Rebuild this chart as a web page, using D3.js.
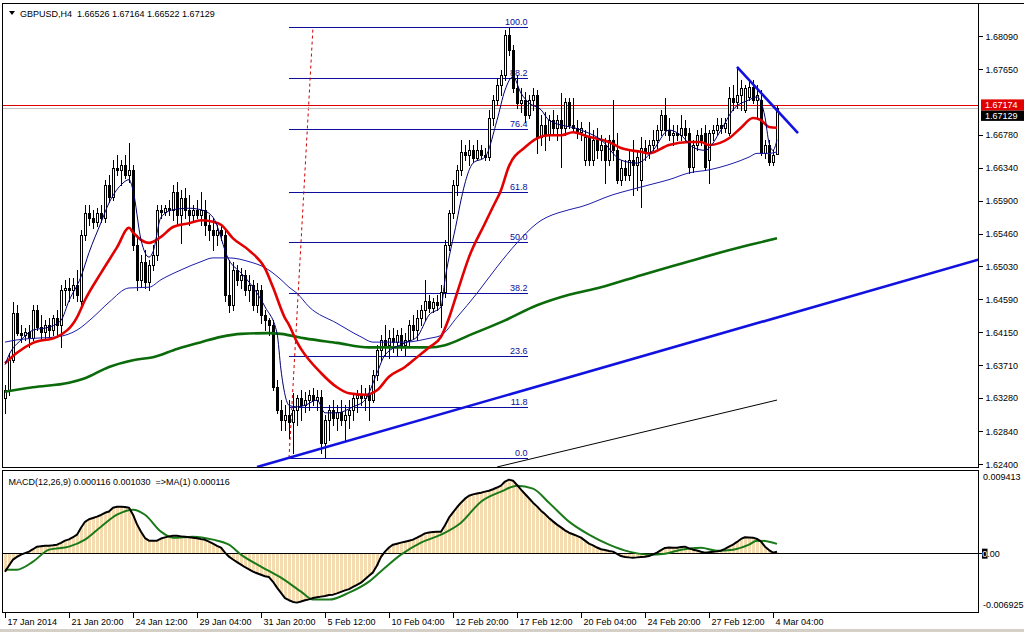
<!DOCTYPE html>
<html><head><meta charset="utf-8">
<script src="https://cdn.jsdelivr.net/npm/d3@7/dist/d3.min.js"></script>
<style>
html,body{margin:0;padding:0;background:#fff;}
svg{display:block;}
text{font-family:"Liberation Sans",Arial,sans-serif;font-size:9px;white-space:pre;}
</style></head><body>
<svg id="c" width="1024" height="632"></svg>
<script>
// ---------------- DATA ----------------
const chartTitle = "GBPUSD,H4  1.66526 1.67164 1.66522 1.67129";
const macdTitle = "MACD(12,26,9) 0.000116 0.001030  =>MA(1) 0.000116";

const opens = [1.6328,1.6338,1.6378,1.6441,1.6414,1.6411,1.6415,1.6407,1.6445,1.6422,
1.6415,1.6425,1.6418,1.6434,1.6425,1.6471,1.6474,1.6471,1.6478,1.6457,
1.6544,1.6574,1.6567,1.6562,1.6574,1.6567,1.6611,1.6595,1.6634,1.6631,
1.6638,1.6624,1.6631,1.6531,1.6485,1.6509,1.6482,1.6505,1.6518,1.6578,
1.6575,1.6580,1.6578,1.6602,1.6571,1.6594,1.6578,1.6571,1.6578,1.6571,
1.6578,1.6558,1.6551,1.6544,1.6551,1.6544,1.6465,1.6451,1.6498,1.6485,
1.6491,1.6471,1.6478,1.6451,1.6471,1.6438,1.6431,1.6425,1.6342,1.6312,
1.6298,1.6305,1.6296,1.6312,1.6328,1.6318,1.6325,1.6332,1.6325,1.6329,
1.6268,1.6298,1.6312,1.6301,1.6309,1.6298,1.6305,1.6312,1.6328,1.6332,
1.6328,1.6332,1.6325,1.6358,1.6392,1.6405,1.6398,1.6407,1.6402,1.6411,
1.6398,1.6405,1.6425,1.6418,1.6434,1.6445,1.6457,1.6447,1.6455,1.6451,
1.6469,1.6531,1.6574,1.6611,1.6631,1.6655,1.6651,1.6657,1.6647,1.6657,
1.6651,1.6648,1.6700,1.6724,1.6744,1.6757,1.6810,1.6790,1.6740,1.6720,
1.6724,1.6704,1.6724,1.6731,1.6675,1.6691,1.6677,1.6697,1.6687,1.6697,
1.6687,1.6721,1.6691,1.6687,1.6681,1.6644,1.6675,1.6644,1.6671,1.6657,
1.6664,1.6644,1.6671,1.6657,1.6618,1.6634,1.6624,1.6644,1.6638,1.6618,
1.6660,1.6655,1.6664,1.6671,1.6684,1.6704,1.6684,1.6677,1.6680,1.6677,
1.6687,1.6680,1.6635,1.6664,1.6677,1.6680,1.6644,1.6680,1.6684,1.6691,
1.6687,1.6680,1.6727,1.6721,1.6731,1.6711,1.6728,1.6741,1.6724,1.6724,
1.6653,1.6664,1.6642,1.66526];
const highs = [1.6345,1.6388,1.6455,1.6451,1.6425,1.6421,1.6425,1.6451,1.6451,1.6438,
1.6431,1.6434,1.6438,1.6445,1.6478,1.6485,1.6487,1.6487,1.6498,1.6551,
1.6584,1.6584,1.6578,1.6580,1.6584,1.6618,1.6624,1.6644,1.6651,1.6644,
1.6651,1.6667,1.6638,1.6544,1.6518,1.6524,1.6511,1.6531,1.6584,1.6584,
1.6584,1.6591,1.6611,1.6615,1.6604,1.6607,1.6598,1.6584,1.6591,1.6602,
1.6591,1.6571,1.6567,1.6558,1.6558,1.6551,1.6511,1.6509,1.6505,1.6501,
1.6498,1.6491,1.6485,1.6481,1.6478,1.6445,1.6434,1.6431,1.6352,1.6325,
1.6318,1.6325,1.6334,1.6332,1.6338,1.6336,1.6338,1.6341,1.6338,1.6338,
1.6305,1.6318,1.6325,1.6318,1.6325,1.6318,1.6325,1.6332,1.6338,1.6345,
1.6341,1.6345,1.6365,1.6398,1.6411,1.6425,1.6418,1.6421,1.6418,1.6421,
1.6414,1.6431,1.6438,1.6445,1.6451,1.6485,1.6465,1.6461,1.6465,1.6478,
1.6538,1.6578,1.6618,1.6638,1.6671,1.6664,1.6671,1.6664,1.6671,1.6664,
1.6660,1.6711,1.6731,1.6753,1.6764,1.6817,1.6820,1.6797,1.6757,1.6740,
1.6735,1.6731,1.6740,1.6737,1.6704,1.6708,1.6704,1.6711,1.6704,1.6733,
1.6727,1.6727,1.6727,1.6697,1.6695,1.6684,1.6695,1.6684,1.6687,1.6677,
1.6673,1.6677,1.6724,1.6680,1.6644,1.6644,1.6657,1.6671,1.6657,1.6675,
1.6671,1.6671,1.6684,1.6691,1.6711,1.6727,1.6700,1.6691,1.6691,1.6704,
1.6697,1.6687,1.6671,1.6684,1.6687,1.6691,1.6684,1.6691,1.6700,1.6700,
1.6700,1.6741,1.6744,1.6767,1.6751,1.6744,1.6751,1.6751,1.6744,1.6737,
1.6671,1.6671,1.6657,1.67164];
const lows = [1.6308,1.6332,1.6376,1.6411,1.6402,1.6405,1.6395,1.6405,1.6418,1.6405,
1.6407,1.6410,1.6411,1.6411,1.6395,1.6451,1.6457,1.6461,1.6457,1.6451,
1.6538,1.6558,1.6554,1.6556,1.6562,1.6562,1.6588,1.6591,1.6624,1.6611,
1.6620,1.6615,1.6524,1.6471,1.6475,1.6474,1.6471,1.6498,1.6511,1.6567,
1.6571,1.6571,1.6564,1.6558,1.6534,1.6567,1.6558,1.6562,1.6567,1.6558,
1.6544,1.6538,1.6524,1.6531,1.6538,1.6457,1.6442,1.6445,1.6478,1.6474,
1.6465,1.6457,1.6445,1.6442,1.6427,1.6418,1.6411,1.6338,1.6308,1.6285,
1.6285,1.6274,1.6255,1.6292,1.6298,1.6309,1.6312,1.6318,1.6312,1.6255,
1.6249,1.6272,1.6292,1.6285,1.6292,1.6272,1.6288,1.6298,1.6309,1.6318,
1.6312,1.6298,1.6322,1.6352,1.6378,1.6385,1.6381,1.6389,1.6385,1.6392,
1.6385,1.6398,1.6407,1.6405,1.6425,1.6431,1.6442,1.6442,1.6445,1.6422,
1.6462,1.6524,1.6567,1.6598,1.6624,1.6644,1.6638,1.6642,1.6644,1.6647,
1.6644,1.6644,1.6691,1.6717,1.6731,1.6751,1.6784,1.6735,1.6713,1.6708,
1.6695,1.6700,1.6711,1.6653,1.6664,1.6657,1.6671,1.6677,1.6671,1.6635,
1.6677,1.6687,1.6681,1.6673,1.6671,1.6638,1.6638,1.6638,1.6647,1.6644,
1.6614,1.6638,1.6644,1.6614,1.6611,1.6618,1.6618,1.6598,1.6604,1.6582,
1.6644,1.6647,1.6657,1.6660,1.6677,1.6677,1.6671,1.6664,1.6671,1.6671,
1.6671,1.6627,1.6628,1.6657,1.6664,1.6631,1.6614,1.6671,1.6677,1.6680,
1.6681,1.6677,1.6711,1.6713,1.6711,1.6708,1.6724,1.6720,1.6700,1.6651,
1.6647,1.6638,1.6638,1.66522];
const closes = [1.6338,1.6378,1.6441,1.6414,1.6411,1.6415,1.6407,1.6445,1.6422,1.6415,
1.6425,1.6418,1.6434,1.6425,1.6471,1.6474,1.6471,1.6478,1.6465,1.6544,
1.6574,1.6567,1.6562,1.6574,1.6567,1.6611,1.6595,1.6634,1.6631,1.6638,
1.6624,1.6631,1.6531,1.6485,1.6509,1.6482,1.6505,1.6518,1.6578,1.6575,
1.6580,1.6578,1.6602,1.6571,1.6594,1.6578,1.6571,1.6578,1.6571,1.6578,
1.6558,1.6551,1.6544,1.6551,1.6544,1.6465,1.6451,1.6498,1.6485,1.6491,
1.6471,1.6478,1.6451,1.6471,1.6438,1.6431,1.6425,1.6342,1.6312,1.6298,
1.6305,1.6296,1.6312,1.6328,1.6318,1.6325,1.6332,1.6325,1.6329,1.6268,
1.6298,1.6312,1.6301,1.6309,1.6298,1.6305,1.6312,1.6328,1.6332,1.6328,
1.6332,1.6325,1.6358,1.6392,1.6405,1.6398,1.6407,1.6402,1.6411,1.6398,
1.6405,1.6425,1.6418,1.6434,1.6445,1.6457,1.6447,1.6455,1.6451,1.6469,
1.6531,1.6574,1.6611,1.6631,1.6655,1.6651,1.6657,1.6647,1.6657,1.6651,
1.6648,1.6700,1.6724,1.6744,1.6757,1.6810,1.6790,1.6740,1.6720,1.6724,
1.6704,1.6724,1.6731,1.6675,1.6691,1.6677,1.6697,1.6687,1.6697,1.6687,
1.6721,1.6691,1.6687,1.6681,1.6687,1.6675,1.6644,1.6671,1.6657,1.6664,
1.6644,1.6671,1.6657,1.6618,1.6634,1.6624,1.6644,1.6638,1.6648,1.6660,
1.6655,1.6664,1.6671,1.6684,1.6704,1.6684,1.6677,1.6680,1.6677,1.6687,
1.6677,1.6635,1.6664,1.6677,1.6671,1.6635,1.6680,1.6684,1.6691,1.6687,
1.6693,1.6727,1.6721,1.6731,1.6740,1.6740,1.6741,1.6724,1.6731,1.6653,
1.6664,1.6642,1.6651,1.67129];

// moving averages at selected bars
const fastIdx = [0,1,4,7,11,14,16,19,21,24,26,29,31,32,34,36,37,39,42,46,49,52,56,59,62,65,68,69,70,71,73,75,78,80,83,87,90,93,95,100,103,106,109,110,113,114,117,120,123,125,127,129,131,134,136,144,149,154,158,162,166,169,172,175,179,182,186,188,190,191,192,193];
const fastVal = [1.6372,1.6385,1.6405,1.6418,1.6422,1.6431,1.6457,1.6489,1.6521,1.6561,1.6587,1.6611,1.6618,1.6604,1.6538,1.6515,1.6522,1.6568,1.6578,1.6580,1.6578,1.6568,1.6511,1.6494,1.6475,1.6449,1.6414,1.6365,1.6332,1.6318,1.6316,1.6318,1.6325,1.6308,1.6308,1.6316,1.6325,1.6361,1.6385,1.6401,1.6409,1.6438,1.6449,1.6485,1.6564,1.6591,1.6640,1.6648,1.6697,1.6737,1.6755,1.6733,1.6720,1.6711,1.6697,1.6684,1.6671,1.6644,1.6640,1.6657,1.6684,1.6677,1.6661,1.6657,1.6684,1.6711,1.6724,1.6728,1.6701,1.6667,1.6657,1.6671];
const redIdx = [0,3,7,13,18,20,24,28,31,32,34,36,39,42,46,49,52,54,57,61,65,67,70,71,73,74,79,83,86,90,93,96,100,103,106,109,111,113,116,120,122,124,126,130,133,136,139,142,146,151,154,159,161,166,171,174,176,181,184,187,189,191,193];
const redVal = [1.6374,1.6388,1.6401,1.6409,1.6435,1.6458,1.6494,1.6528,1.6554,1.6548,1.6538,1.6534,1.6542,1.6555,1.6560,1.6564,1.6562,1.6558,1.6540,1.6524,1.6500,1.6475,1.6434,1.6425,1.6402,1.6393,1.6361,1.6342,1.6334,1.6332,1.6338,1.6356,1.6369,1.6382,1.6395,1.6409,1.6434,1.6467,1.6515,1.6560,1.6582,1.6604,1.6636,1.6661,1.6673,1.6677,1.6677,1.6681,1.6675,1.6668,1.6660,1.6655,1.6653,1.6664,1.6668,1.6668,1.6664,1.6673,1.6687,1.6700,1.6697,1.6688,1.6687];
const blueIdx = [0,3,7,13,18,22,26,31,36,39,44,49,52,56,61,65,69,71,73,76,83,89,92,100,106,109,113,118,123,128,133,141,144,152,156,161,166,171,176,181,186,188,191,193];
const blueVal = [1.6402,1.6405,1.6407,1.6409,1.6418,1.6435,1.6455,1.6474,1.6475,1.6485,1.6498,1.6509,1.6514,1.6514,1.6509,1.6501,1.6485,1.6475,1.6467,1.6449,1.6427,1.6409,1.6402,1.6402,1.6407,1.6411,1.6435,1.6467,1.6502,1.6534,1.6560,1.6578,1.6582,1.6598,1.6604,1.6611,1.6618,1.6627,1.6631,1.6638,1.6648,1.6653,1.6653,1.6655];
const greenIdx = [0,7,16,20,26,32,37,43,49,54,59,66,69,75,83,91,100,106,110,116,125,133,141,149,159,174,186,193];
const greenVal = [1.6336,1.6342,1.6348,1.6354,1.6369,1.6378,1.6382,1.6393,1.6402,1.6409,1.6413,1.6414,1.6413,1.6407,1.6401,1.6395,1.6395,1.6395,1.6398,1.6411,1.6431,1.6451,1.6465,1.6475,1.6491,1.6514,1.6531,1.6540];

// MACD (main = histogram = MA(1) line) per bar, and signal read at selected bars
const macd = [-0.00222,-0.00150,-0.00082,-0.00050,-0.00023,-0.00005,0.00012,0.00040,0.00070,0.00076,
0.00080,0.00082,0.00086,0.00093,0.00115,0.00140,0.00155,0.00180,0.00210,0.00290,
0.00360,0.00390,0.00405,0.00420,0.00440,0.00465,0.00480,0.00525,0.00535,0.00537,
0.00532,0.00525,0.00443,0.00330,0.00245,0.00170,0.00140,0.00138,0.00140,0.00165,
0.00178,0.00190,0.00198,0.00196,0.00190,0.00185,0.00180,0.00175,0.00168,0.00158,
0.00150,0.00128,0.00105,0.00080,0.00058,0.00000,-0.00047,-0.00080,-0.00110,-0.00140,
-0.00170,-0.00195,-0.00222,-0.00240,-0.00258,-0.00275,-0.00285,-0.00340,-0.00408,-0.00470,
-0.00530,-0.00555,-0.00575,-0.00583,-0.00570,-0.00555,-0.00545,-0.00530,-0.00520,-0.00513,
-0.00505,-0.00495,-0.00490,-0.00475,-0.00458,-0.00440,-0.00425,-0.00400,-0.00375,-0.00350,
-0.00310,-0.00270,-0.00230,-0.00150,-0.00050,0.00012,0.00060,0.00093,0.00105,0.00117,
0.00128,0.00140,0.00152,0.00175,0.00200,0.00225,0.00235,0.00240,0.00243,0.00245,
0.00320,0.00408,0.00470,0.00530,0.00583,0.00630,0.00665,0.00680,0.00690,0.00700,
0.00712,0.00723,0.00740,0.00760,0.00782,0.00830,0.00852,0.00840,0.00790,0.00735,
0.00685,0.00635,0.00583,0.00540,0.00490,0.00450,0.00405,0.00365,0.00327,0.00295,
0.00260,0.00233,0.00215,0.00195,0.00175,0.00140,0.00105,0.00085,0.00060,0.00040,
0.00030,0.00020,0.00012,-0.00015,-0.00040,-0.00050,-0.00055,-0.00058,-0.00055,-0.00050,
-0.00047,-0.00040,-0.00020,0.00000,0.00030,0.00055,0.00060,0.00058,0.00058,0.00065,
0.00070,0.00050,0.00035,0.00025,0.00010,0.00000,0.00005,0.00010,0.00015,0.00023,
0.00045,0.00070,0.00093,0.00125,0.00160,0.00180,0.00178,0.00175,0.00160,0.00128,
0.00070,0.00030,0.00000,0.000116];
const sigIdx = [0,3,7,11,16,20,24,28,32,35,39,42,47,52,56,59,64,69,74,77,81,86,91,95,99,104,109,114,119,124,128,132,136,141,146,151,156,161,165,169,174,178,182,186,188,191,193];
const sigVal = [-0.00198,-0.00198,-0.00105,0.00035,0.00070,0.00152,0.00303,0.00443,0.00502,0.00443,0.00245,0.00175,0.00187,0.00152,0.00093,-0.00023,-0.00163,-0.00292,-0.00455,-0.00548,-0.00548,-0.00467,-0.00338,-0.00175,-0.00023,0.00117,0.00210,0.00350,0.00595,0.00712,0.00782,0.00747,0.00583,0.00362,0.00210,0.00093,0.00012,-0.00023,-0.00012,0.00035,0.00058,0.00023,0.00035,0.00093,0.00140,0.00128,0.00103];

// axes
const priceTicks = [1.68090,1.67650,1.66780,1.66340,1.65900,1.65460,1.65030,1.64590,1.64150,1.63710,1.63280,1.62840,1.62400];
const timeIdx = [0,16,32,48,64,80,96,112,128,144,160,176,192];
const timeLabels = ["17 Jan 2014","21 Jan 20:00","24 Jan 12:00","29 Jan 04:00","31 Jan 20:00","5 Feb 12:00","10 Feb 04:00","12 Feb 20:00","17 Feb 12:00","20 Feb 04:00","24 Feb 20:00","27 Feb 12:00","4 Mar 04:00"];
const macdTickVals = [0.009413, 0, -0.006925];
const macdTickLabels = ["0.009413","0.00","-0.006925"];
const askPrice = 1.67174, bidPrice = 1.67129;

// drawn objects
const fibAnchorIdx = [71, 77], fibAnchorVal = [1.6248, 1.6821];
const fibEndIdx = 130.75;
const fibLevels = [0, 11.8, 23.6, 38.2, 50, 61.8, 76.4, 88.2, 100];
const fibLabels = ["0.0","11.8","23.6","38.2","50.0","61.8","76.4","88.2","100.0"];
const trendUpIdx = [63, 243.5], trendUpVal = [1.6236, 1.6512];
const trendDownIdx = [183, 198.25], trendDownVal = [1.6768, 1.6680];
const thinLineIdx = [123, 193], thinLineVal = [1.6236, 1.6325];

// ---------------- LAYOUT ----------------
const L = 2.5, R = 978.5, T = 3.5, MB = 467, MT = 470, B = 612.5;
const svg = d3.select("#c");
const xS = d3.scaleLinear().domain([0, 193]).range([5, 777]);
const yS = d3.scaleLinear().domain([1.62360, 1.68522]).range([467, 3.5]);
const mS = d3.scaleLinear().domain([-0.006925, 0.009413]).range([612, 472]);

svg.append("rect").attr("width",1024).attr("height",632).attr("fill","#fff");
svg.append("rect").attr("x",0).attr("y",629).attr("width",1024).attr("height",3).attr("fill","#d4d0c8");

const defs = svg.append("defs");
defs.append("clipPath").attr("id","cm").append("rect").attr("x",L).attr("y",T).attr("width",R-L).attr("height",MB-T);
defs.append("clipPath").attr("id","cd").append("rect").attr("x",L).attr("y",MT).attr("width",R-L).attr("height",B-MT);

const gMain = svg.append("g").attr("clip-path","url(#cm)");
const gMacd = svg.append("g").attr("clip-path","url(#cd)");

// ---- Fibonacci ----
const fibCol = "#0d0d9c";
const fLo = fibAnchorVal[0], fHi = fibAnchorVal[1];
fibLevels.forEach((lv, k) => {
  const p = fLo + (fHi - fLo) * lv / 100;
  const y = Math.round(yS(p)) + 0.5;
  gMain.append("line").attr("x1", xS(fibAnchorIdx[0])).attr("x2", xS(fibEndIdx))
    .attr("y1", y).attr("y2", y).attr("stroke", fibCol).attr("stroke-width", 1);
  gMain.append("text").attr("x", xS(fibEndIdx) - 0.5).attr("y", y - 2.5)
    .attr("text-anchor","end").attr("fill", fibCol).text(fibLabels[k]);
});
gMain.append("line").attr("x1", xS(fibAnchorIdx[0])).attr("y1", yS(fibAnchorVal[0]))
  .attr("x2", xS(fibAnchorIdx[1])).attr("y2", yS(fibAnchorVal[1]))
  .attr("stroke","#d00000").attr("stroke-width",1).attr("stroke-dasharray","3,3");

// ---- bid / ask lines ----
gMain.append("line").attr("x1",L).attr("x2",R).attr("y1",Math.round(yS(bidPrice))+0.5).attr("y2",Math.round(yS(bidPrice))+0.5)
  .attr("stroke","#c0c0c0").attr("stroke-width",1);
gMain.append("line").attr("x1",L).attr("x2",R).attr("y1",Math.round(yS(askPrice))+0.5).attr("y2",Math.round(yS(askPrice))+0.5)
  .attr("stroke","#e00000").attr("stroke-width",1);

// ---- candles ----
const bars = d3.range(opens.length).map(i => ({i, o:opens[i], h:highs[i], l:lows[i], c:closes[i]}));
const gC = gMain.append("g").attr("shape-rendering","crispEdges");
bars.forEach(d => {
  const cx = Math.round(xS(d.i));
  gC.append("line").attr("x1",cx+0.5).attr("x2",cx+0.5)
    .attr("y1",Math.round(yS(d.h))).attr("y2",Math.round(yS(d.l))+1)
    .attr("stroke","#000").attr("stroke-width",1);
  const top = Math.round(yS(Math.max(d.o,d.c))), bot = Math.round(yS(Math.min(d.o,d.c)));
  const up = d.c >= d.o;
  gC.append("rect").attr("x",cx-0.5).attr("y",top+0.5).attr("width",2).attr("height",Math.max(0,bot-top))
    .attr("fill", up ? "#fff" : "#000").attr("stroke","#000").attr("stroke-width",1);
});

// ---- moving averages ----
const maLine = d3.line().x(d=>xS(d[0])).y(d=>yS(d[1])).curve(d3.curveMonotoneX);
gMain.append("path").datum(d3.zip(greenIdx,greenVal)).attr("d",maLine).attr("fill","none").attr("stroke","#0b6b0b").attr("stroke-width",2.6);
gMain.append("path").datum(d3.zip(blueIdx,blueVal)).attr("d",maLine).attr("fill","none").attr("stroke","#1c1ca8").attr("stroke-width",1);
gMain.append("path").datum(d3.zip(redIdx,redVal)).attr("d",maLine).attr("fill","none").attr("stroke","#e30000").attr("stroke-width",2.6);
gMain.append("path").datum(d3.zip(fastIdx,fastVal)).attr("d",maLine).attr("fill","none").attr("stroke","#00006e").attr("stroke-width",1);

// ---- trend lines ----
const straight = d3.line().x(d=>xS(d[0])).y(d=>yS(d[1]));
gMain.append("path").datum(d3.zip(trendUpIdx,trendUpVal)).attr("d",straight).attr("stroke","#1212e0").attr("stroke-width",2.6).attr("fill","none");
gMain.append("path").datum(d3.zip(trendDownIdx,trendDownVal)).attr("d",straight).attr("stroke","#1212e0").attr("stroke-width",2.6).attr("fill","none");
gMain.append("path").datum(d3.zip(thinLineIdx,thinLineVal)).attr("d",straight).attr("stroke","#000").attr("stroke-width",1).attr("fill","none");

// ---- MACD ----
const gH = gMacd.append("g").attr("shape-rendering","crispEdges");
macd.forEach((v,i) => {
  const cx = Math.round(xS(i));
  const y0 = mS(0), y1 = mS(v);
  gH.append("rect").attr("x",cx-1).attr("width",3)
    .attr("y",Math.min(y0,y1)).attr("height",Math.abs(y1-y0)).attr("fill","#f5dcb0");
});
gMacd.append("line").attr("x1",L).attr("x2",R).attr("y1",Math.round(mS(0))+0.5).attr("y2",Math.round(mS(0))+0.5)
  .attr("stroke","#000").attr("stroke-width",1);
gMacd.append("path").datum(d3.zip(sigIdx,sigVal)).attr("d", d3.line().x(d=>xS(d[0])).y(d=>mS(d[1])).curve(d3.curveMonotoneX))
  .attr("fill","none").attr("stroke","#1a7a1a").attr("stroke-width",2);
gMacd.append("path").datum(macd).attr("d", d3.line().x((d,i)=>xS(i)).y(d=>mS(d)))
  .attr("fill","none").attr("stroke","#000").attr("stroke-width",2).attr("stroke-linejoin","round");

// ---- frames ----
const frame = svg.append("g").attr("shape-rendering","crispEdges").attr("fill","none").attr("stroke","#000");
frame.append("rect").attr("x",L).attr("y",T).attr("width",R-L).attr("height",MB-T);
frame.append("rect").attr("x",L).attr("y",MT).attr("width",R-L).attr("height",B-MT);
frame.append("line").attr("x1",R).attr("x2",1024).attr("y1",T).attr("y2",T);

// ---- titles ----
svg.append("path").attr("d","M9,11 L15,11 L12,15 Z").attr("fill","#000");
svg.append("text").attr("x",20).attr("y",17).attr("fill","#000").text(chartTitle);
svg.append("text").attr("x",8.5).attr("y",484.5).attr("fill","#000").text(macdTitle);

// ---- price axis ----
const ay = svg.append("g").attr("transform",`translate(${R},0)`)
  .call(d3.axisRight(yS).tickValues(priceTicks).tickSize(4).tickPadding(3).tickFormat(d=>d.toFixed(5)));
ay.select(".domain").remove();
ay.attr("font-family",null).attr("font-size",null);
ay.selectAll("line").attr("shape-rendering","crispEdges");
ay.selectAll("text").attr("fill","#000").attr("dy","0.35em");

// ask label, with the bid label placed directly beneath it
const byA = yS(askPrice);
const boxTopA = byA - 5.5, boxBotA = byA + 5.5;
svg.append("rect").attr("x",981).attr("y",boxBotA).attr("width",43).attr("height",10.5).attr("fill","#000");
svg.append("text").attr("x",985).attr("y",boxBotA+8.5).attr("fill","#fff").attr("font-size","8.5px").text(bidPrice.toFixed(5));
svg.append("rect").attr("x",981).attr("y",boxTopA).attr("width",43).attr("height",11).attr("fill","#e00000");
svg.append("text").attr("x",985).attr("y",byA+3.2).attr("fill","#fff").text(askPrice.toFixed(5));

// ---- MACD axis ----
const mOff = [7.5, 4.8, -4];
macdTickVals.forEach((v,k) => {
  const y = mS(v) + mOff[k];
  if (v === 0) {
    svg.append("line").attr("x1",R).attr("x2",R+4).attr("y1",Math.round(mS(0))+0.5).attr("y2",Math.round(mS(0))+0.5).attr("stroke","#000");
    svg.append("rect").attr("x",982).attr("y",mS(0)-4).attr("width",5.5).attr("height",10).attr("fill","#000");
    const t = svg.append("text").attr("x",982.3).attr("y",y);
    t.append("tspan").attr("fill","#fff").text(macdTickLabels[k].slice(0,1));
    t.append("tspan").attr("fill","#000").text(macdTickLabels[k].slice(1));
  } else {
    svg.append("text").attr("x",983).attr("y",y).attr("fill","#000").text(macdTickLabels[k]);
  }
});

// ---- time axis ----
const ax = svg.append("g").attr("transform",`translate(0,${B})`)
  .call(d3.axisBottom(xS).tickValues(timeIdx).tickSize(5).tickFormat((d,i)=>timeLabels[i]));
ax.select(".domain").remove();
ax.attr("font-family",null).attr("font-size",null);
ax.selectAll("line").attr("shape-rendering","crispEdges");
ax.selectAll("text").attr("text-anchor","start").attr("x",2).attr("y",12.5).attr("dy",null).attr("fill","#000");
</script>
</body></html>
